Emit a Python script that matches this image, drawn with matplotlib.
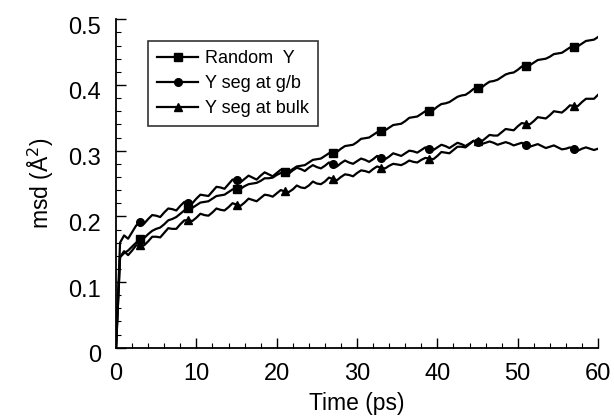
import numpy as np
import matplotlib.pyplot as plt
import matplotlib.transforms as mtransforms
from matplotlib.ticker import MultipleLocator

plt.rcParams['font.family'] = ['Liberation Sans', 'DejaVu Sans']

# time axis (ps), sampled every 0.5 ps
time = np.arange(0, 60.5, 0.5)

random_y = [
    0.000, 0.138, 0.144, 0.148, 0.154, 0.160, 0.165, 0.167, 0.173, 0.178,
    0.181, 0.183, 0.188, 0.194, 0.196, 0.199, 0.204, 0.209, 0.212, 0.213,
    0.217, 0.221, 0.222, 0.223, 0.227, 0.231, 0.232, 0.233, 0.237, 0.241,
    0.242, 0.242, 0.246, 0.249, 0.250, 0.251, 0.254, 0.258, 0.258, 0.259,
    0.263, 0.266, 0.267, 0.268, 0.272, 0.276, 0.277, 0.278, 0.282, 0.286,
    0.287, 0.288, 0.292, 0.296, 0.297, 0.298, 0.303, 0.307, 0.308, 0.309,
    0.313, 0.318, 0.319, 0.320, 0.324, 0.328, 0.330, 0.331, 0.335, 0.339,
    0.340, 0.341, 0.345, 0.350, 0.351, 0.352, 0.356, 0.360, 0.361, 0.362,
    0.367, 0.371, 0.372, 0.374, 0.378, 0.382, 0.384, 0.385, 0.389, 0.394,
    0.395, 0.396, 0.401, 0.405, 0.406, 0.408, 0.412, 0.416, 0.418, 0.419,
    0.423, 0.428, 0.429, 0.430, 0.434, 0.438, 0.439, 0.440, 0.443, 0.447,
    0.448, 0.449, 0.453, 0.457, 0.458, 0.459, 0.463, 0.467, 0.468, 0.469,
    0.473,
]

seg_gb = [
    0.000, 0.160, 0.171, 0.166, 0.176, 0.186, 0.191, 0.189, 0.196, 0.202,
    0.201, 0.199, 0.206, 0.212, 0.211, 0.209, 0.216, 0.222, 0.221, 0.220,
    0.227, 0.233, 0.232, 0.231, 0.238, 0.245, 0.244, 0.242, 0.249, 0.256,
    0.255, 0.252, 0.257, 0.262, 0.259, 0.256, 0.262, 0.267, 0.264, 0.261,
    0.266, 0.271, 0.268, 0.265, 0.270, 0.274, 0.272, 0.269, 0.274, 0.278,
    0.275, 0.273, 0.277, 0.282, 0.279, 0.276, 0.281, 0.285, 0.282, 0.280,
    0.284, 0.288, 0.286, 0.283, 0.287, 0.292, 0.289, 0.287, 0.291, 0.296,
    0.294, 0.292, 0.296, 0.300, 0.299, 0.297, 0.301, 0.305, 0.303, 0.301,
    0.305, 0.309, 0.307, 0.304, 0.308, 0.312, 0.310, 0.307, 0.311, 0.315,
    0.313, 0.310, 0.312, 0.314, 0.312, 0.309, 0.311, 0.313, 0.311, 0.308,
    0.310, 0.312, 0.309, 0.306, 0.308, 0.310, 0.307, 0.304, 0.306, 0.308,
    0.305, 0.302, 0.303, 0.305, 0.302, 0.300, 0.303, 0.305, 0.303, 0.301,
    0.303,
]

seg_bulk = [
    0.000, 0.138, 0.147, 0.141, 0.148, 0.156, 0.156, 0.156, 0.162, 0.169,
    0.169, 0.168, 0.175, 0.182, 0.181, 0.181, 0.188, 0.194, 0.194, 0.193,
    0.198, 0.204, 0.202, 0.201, 0.206, 0.212, 0.210, 0.209, 0.214, 0.220,
    0.218, 0.216, 0.221, 0.227, 0.225, 0.223, 0.228, 0.233, 0.232, 0.230,
    0.235, 0.240, 0.238, 0.237, 0.241, 0.247, 0.244, 0.243, 0.247, 0.253,
    0.250, 0.249, 0.253, 0.259, 0.257, 0.255, 0.260, 0.264, 0.263, 0.261,
    0.266, 0.270, 0.269, 0.267, 0.272, 0.276, 0.274, 0.273, 0.277, 0.280,
    0.279, 0.278, 0.281, 0.285, 0.283, 0.282, 0.286, 0.289, 0.288, 0.287,
    0.292, 0.298, 0.297, 0.296, 0.301, 0.306, 0.306, 0.305, 0.310, 0.315,
    0.314, 0.314, 0.319, 0.324, 0.323, 0.323, 0.328, 0.333, 0.332, 0.331,
    0.337, 0.342, 0.341, 0.340, 0.345, 0.351, 0.350, 0.349, 0.354, 0.360,
    0.359, 0.358, 0.363, 0.369, 0.368, 0.368, 0.374, 0.379, 0.379, 0.379,
    0.385,
]

labels = ['Random  Y', 'Y seg at g/b', 'Y seg at bulk']
markers = ['s', 'o', '^']

fig = plt.figure(figsize=(6.14, 4.19), dpi=100)
ax = fig.add_axes([0.189, 0.170, 0.785, 0.784])

# markers at t = 3, 9, 15, ... 57
mev = slice(6, None, 12)
for y, lab, m in zip([random_y, seg_gb, seg_bulk], labels, markers):
    ax.plot(time, y, color='black', lw=1.6, marker=m, markersize=5.5,
            markevery=mev, label=lab)

ax.set_xlim(0, 60)
ax.set_ylim(0, 0.5)
ax.xaxis.set_major_locator(MultipleLocator(10))
ax.xaxis.set_minor_locator(MultipleLocator(2))
ax.yaxis.set_minor_locator(MultipleLocator(0.02))
ax.set_yticks([0, 0.1, 0.2, 0.3, 0.4, 0.5])
ax.set_yticklabels(['0', '0.1', '0.2', '0.3', '0.4', '0.5'])

for s in ['top', 'right']:
    ax.spines[s].set_visible(False)
for s in ['left', 'bottom']:
    ax.spines[s].set_linewidth(1.3)

ax.tick_params(which='major', direction='in', length=7, width=1, labelsize=17, pad=11)
ax.tick_params(which='minor', direction='in', length=3.5, width=0.8)

offset = mtransforms.ScaledTranslation(0, -6/100, fig.dpi_scale_trans)
for lab in ax.get_yticklabels():
    lab.set_transform(lab.get_transform() + offset)

ax.set_xlabel('Time (ps)', fontsize=16.5, labelpad=5)
ax.set_ylabel('msd (Å$^2$)', fontsize=16.5, labelpad=9)

leg = ax.legend(loc='upper left', bbox_to_anchor=(0.066, 0.934), borderaxespad=0,
                fontsize=13, frameon=True, fancybox=False, handlelength=2.3,
                handletextpad=0.35, labelspacing=0.45, borderpad=0.5)
leg.get_frame().set_edgecolor('black')
leg.get_frame().set_linewidth(1.2)

fig.savefig('out.png', dpi=100)
